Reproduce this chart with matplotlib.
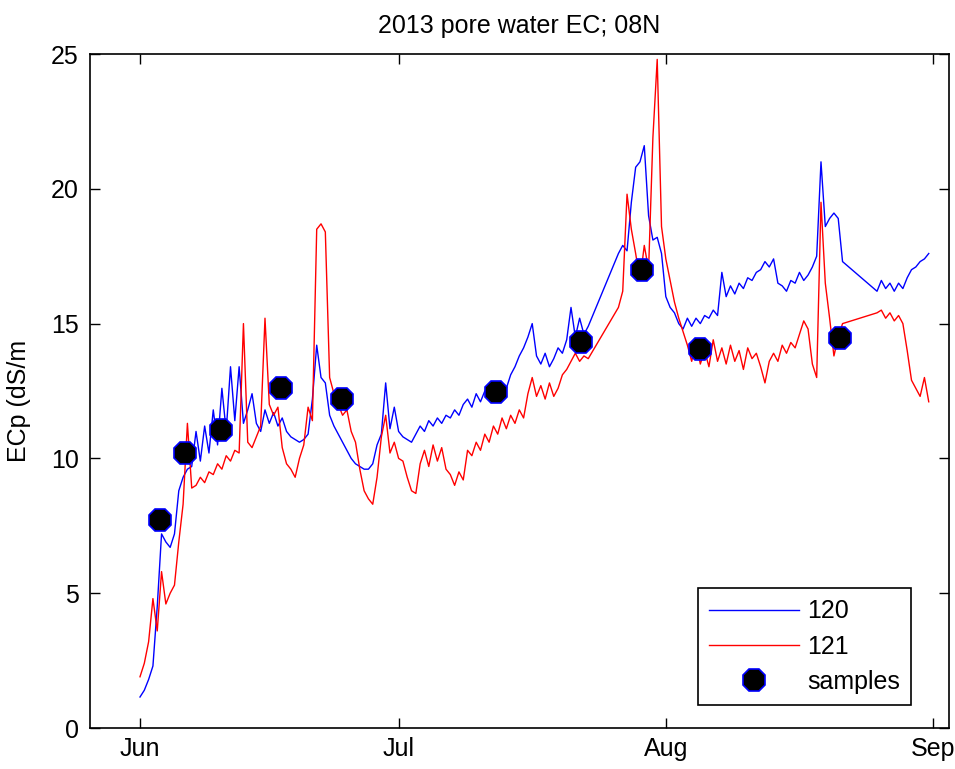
import numpy as np
import matplotlib.pyplot as plt

plt.rcParams['font.family'] = ['Liberation Sans', 'DejaVu Sans']

# time axis in days since 1 Jun 2013
month_days = [0, 30, 61, 92]
month_labels = ['Jun', 'Jul', 'Aug', 'Sep']

# logger records come in three blocks (two data gaps); 0.5 day steps
seg_bounds = [(0, 52), (55.5, 81.5), (85.5, 91.5)]

# sensor 120
ec120_a = [1.15, 1.4, 1.8, 2.3, 4.5, 7.2, 6.9, 6.7, 7.2, 8.8,
           9.3, 9.6, 9.7, 11.0, 9.9, 11.2, 10.2, 11.8, 10.5, 12.6,
           11.0, 13.4, 11.4, 13.4, 11.3, 11.8, 12.4, 11.3, 11.0, 11.8,
           11.3, 11.7, 11.2, 11.5, 11.0, 10.8, 10.7, 10.6, 10.7, 10.9,
           12.2, 14.2, 13.0, 12.8, 11.6, 11.2, 10.9, 10.6, 10.3, 10.0,
           9.8, 9.7, 9.6, 9.6, 9.8, 10.5, 10.9, 12.8, 11.1, 11.9,
           11.0, 10.8, 10.7, 10.6, 10.9, 11.2, 11.0, 11.4, 11.2, 11.5,
           11.3, 11.6, 11.5, 11.8, 11.6, 12.0, 12.2, 11.9, 12.4, 12.1,
           12.5, 12.3, 12.6, 12.4, 12.8, 12.6, 13.1, 13.4, 13.8, 14.1,
           14.5, 15.0, 13.8, 13.5, 13.9, 13.4, 13.7, 14.1, 13.9, 14.4,
           15.6, 14.5, 15.2, 14.6, 14.9]
ec120_b = [17.6, 17.9, 17.7, 19.5, 20.8, 21.0, 21.6, 19.0, 18.1, 18.2,
           17.6, 16.0, 15.6, 15.4, 15.0, 14.8, 15.2, 14.9, 15.2, 15.0,
           15.3, 15.2, 15.5, 15.3, 16.9, 16.0, 16.4, 16.1, 16.5, 16.3,
           16.7, 16.6, 16.9, 17.0, 17.3, 17.1, 17.4, 16.5, 16.4, 16.2,
           16.6, 16.5, 16.9, 16.6, 16.8, 17.1, 17.5, 21.0, 18.6, 18.9,
           19.1, 18.9, 17.3]
ec120_c = [16.2, 16.6, 16.3, 16.5, 16.2, 16.5, 16.3, 16.7, 17.0, 17.1,
           17.3, 17.4, 17.6]

# sensor 121
ec121_a = [1.9, 2.4, 3.2, 4.8, 3.6, 5.8, 4.6, 5.0, 5.3, 6.9,
           8.3, 11.3, 8.9, 9.0, 9.3, 9.1, 9.5, 9.4, 9.8, 9.6,
           10.1, 9.9, 10.3, 10.2, 15.0, 10.6, 10.4, 10.8, 11.2, 15.2,
           12.0, 11.6, 11.9, 10.4, 9.8, 9.6, 9.3, 10.0, 10.5, 11.9,
           11.4, 18.5, 18.7, 18.4, 13.0, 12.4, 12.0, 11.6, 11.8, 11.0,
           10.6, 9.6, 8.8, 8.5, 8.3, 9.3, 10.8, 11.6, 10.2, 10.6,
           10.0, 9.9, 9.3, 8.8, 8.7, 9.8, 10.3, 9.7, 10.5, 9.9,
           10.4, 9.6, 9.4, 9.0, 9.5, 9.2, 10.3, 10.1, 10.6, 10.3,
           10.9, 10.6, 11.2, 10.9, 11.5, 11.1, 11.6, 11.3, 11.8, 11.5,
           12.4, 13.0, 12.3, 12.7, 12.2, 12.8, 12.3, 12.6, 13.1, 13.3,
           13.6, 13.9, 13.6, 13.8, 13.7]
ec121_b = [15.6, 16.2, 19.8, 18.5, 17.6, 16.6, 17.9, 17.0, 21.9, 24.8,
           18.6, 17.4, 16.6, 15.8, 15.2, 14.7, 14.2, 13.6, 14.3, 13.5,
           14.0, 13.4, 14.4, 13.6, 14.1, 13.5, 14.2, 13.6, 14.0, 13.3,
           14.1, 13.7, 13.9, 13.4, 12.8, 13.6, 13.9, 13.6, 14.2, 13.9,
           14.3, 14.1, 14.6, 15.1, 14.8, 13.5, 13.0, 19.5, 16.5, 15.2,
           13.8, 14.5, 15.0]
ec121_c = [15.4, 15.5, 15.2, 15.4, 15.1, 15.3, 15.0, 14.0, 12.9, 12.6,
           12.3, 13.0, 12.1]

# pore water samples
sample_days = [2.3, 5.2, 9.4, 16.4, 23.4, 41.3, 51.2, 58.2, 65.0, 81.2]
sample_ec = [7.7, 10.2, 11.05, 12.6, 12.2, 12.45, 14.3, 17.0, 14.05, 14.45]


def series(blocks):
    t = np.concatenate([np.linspace(a, b, len(v)) for (a, b), v in zip(seg_bounds, blocks)])
    return t, np.concatenate(blocks)


t120, v120 = series([ec120_a, ec120_b, ec120_c])
t121, v121 = series([ec121_a, ec121_b, ec121_c])

fig = plt.figure(figsize=(9.55, 7.69), dpi=100)
ax = fig.add_axes([90/955, 41/769, 859/955, 674/769])

ax.plot(t120, v120, color='#0000ff', lw=1.0, label='120')
ax.plot(t121, v121, color='#ff0000', lw=1.0, label='121')
ax.plot(sample_days, sample_ec, ls='none', marker='8', ms=17,
        mfc='black', mec='#0000ff', mew=1.2, label='samples')

ax.set_xlim(-5.8, 93.85)
ax.set_ylim(0, 25)
ax.set_xticks(month_days, month_labels)
ax.set_yticks(range(0, 26, 5))
ax.tick_params(direction='in', length=7, width=1, top=True, right=True,
               labelsize=18)
ax.tick_params(axis='x', pad=6.5)
ax.tick_params(axis='y', pad=8)
for s in ax.spines.values():
    s.set_linewidth(1.2)

ax.set_title('2013 pore water EC; 08N', fontsize=18, pad=15)
ax.set_ylabel('ECp (dS/m', fontsize=18)
ax.yaxis.set_label_coords(-0.069, 0.485)

leg = ax.legend(loc='lower right', bbox_to_anchor=(0.9558, 0.0341),
                borderaxespad=0, fontsize=18, handlelength=3.6,
                handletextpad=0.3, labelspacing=0.45, borderpad=0.45,
                numpoints=1, fancybox=False, framealpha=1, edgecolor='black')
leg.get_frame().set_linewidth(1.2)

fig.savefig('out.png', dpi=100)
